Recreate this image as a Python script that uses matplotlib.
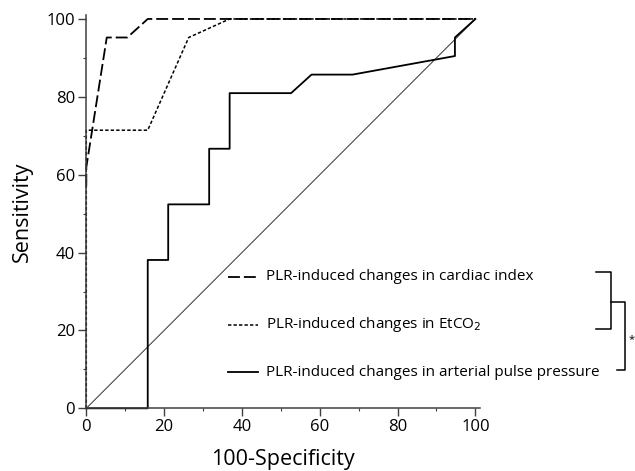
import matplotlib
matplotlib.use("Agg")
import matplotlib.pyplot as plt
from matplotlib.ticker import MultipleLocator

plt.rcParams['font.family'] = ['Open Sans', 'DejaVu Sans']

# Data (100-Specificity, Sensitivity)
ci_x = [0, 0, 5.26, 10.53, 15.79, 100]
ci_y = [57.14, 61.9, 95.24, 95.24, 100, 100]

et_x = [0, 0, 15.79, 26.32, 36.84, 100]
et_y = [0, 71.43, 71.43, 95.24, 100, 100]

pp_x = [0, 15.79, 15.79, 21.05, 21.05, 31.58, 31.58, 36.84, 36.84, 52.63, 57.89, 68.42, 94.74, 94.74, 100]
pp_y = [0, 0, 38.1, 38.1, 52.38, 52.38, 66.67, 66.67, 80.95, 80.95, 85.71, 85.71, 90.48, 95.24, 100]

ref_x = [0, 100]
ref_y = [0, 100]

labels = ["PLR-induced changes in cardiac index",
          "PLR-induced changes in EtCO$_2$",
          "PLR-induced changes in arterial pulse pressure"]

fig = plt.figure(figsize=(6.35, 4.71), dpi=100)
ax = fig.add_axes([0.1359, 0.1331, 0.6201, 0.8349])

ci_style = dict(color='black', lw=1.3, dashes=(6.6, 2.2))
et_style = dict(color='black', lw=1.1, dashes=(2.2, 1.4))
pp_style = dict(color='black', lw=1.3)

ax.plot(ref_x, ref_y, color='#333333', lw=0.7, clip_on=False)
ax.plot(ci_x, ci_y, clip_on=False, **ci_style)
ax.plot(et_x, et_y, clip_on=False, **et_style)
ax.plot(pp_x, pp_y, clip_on=False, **pp_style)

ax.set_xlim(0, 101.2)
ax.set_ylim(0, 101)
ax.xaxis.set_major_locator(MultipleLocator(20))
ax.yaxis.set_major_locator(MultipleLocator(20))
ax.xaxis.set_minor_locator(MultipleLocator(10))
ax.yaxis.set_minor_locator(MultipleLocator(10))
ax.tick_params(which='major', direction='out', length=6, width=1.0, color='#404040', labelsize=12, pad=2)
ax.tick_params(which='minor', direction='out', length=2.5, width=0.8, color='#404040')
for s in ['top', 'right']:
    ax.spines[s].set_visible(False)
for s in ['left', 'bottom']:
    ax.spines[s].set_color('#404040')
    ax.spines[s].set_linewidth(1.1)

ax.set_xlabel("100-Specificity", fontsize=15.5, labelpad=10)
ax.set_ylabel("Sensitivity", fontsize=15.5, labelpad=10)

# Legend drawn manually
leg_y = [33.8, 21.4, 9.3]
styles = [ci_style, et_style, pp_style]
for yy, st, lab in zip(leg_y, styles, labels):
    ax.plot([36.4, 44.1], [yy, yy], **st)
    ax.text(46.2, yy, lab, fontsize=11, va='center', ha='left')

# Significance brackets
bk = dict(color='black', lw=1.1, clip_on=False)
ax.plot([131.0, 134.8, 134.8, 131.0], [34.9, 34.9, 20.3, 20.3], **bk)
ax.plot([134.8, 138.5, 138.5, 136.3], [27.4, 27.4, 9.8, 9.8], **bk)
ax.text(139.3, 17.6, "*", fontsize=8, ha='left', va='center', clip_on=False)

fig.savefig("out.png", dpi=100)
